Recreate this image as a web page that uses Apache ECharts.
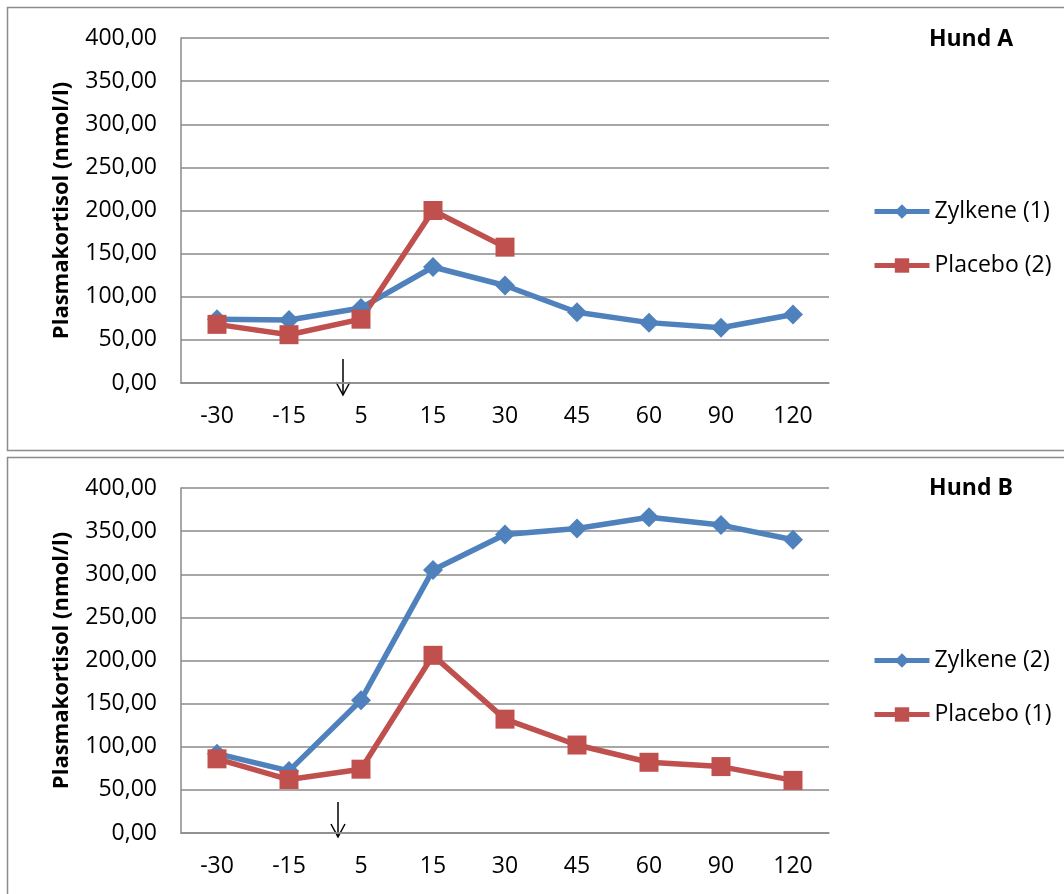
<!DOCTYPE html>
<html>
<head>
<meta charset="utf-8">
<script src="https://cdn.jsdelivr.net/npm/echarts@6/dist/echarts.min.js"></script>
<style>
html,body{margin:0;padding:0;background:#fff;}
#c{width:1064px;height:894px;}
</style>
</head>
<body>
<div id="c"></div>
<script>
var categories = ['-30', '-15', '5', '15', '30', '45', '60', '90', '120'];
var yTicks = [0, 50, 100, 150, 200, 250, 300, 350, 400];

var titleA = 'Hund A';
var zylkeneA_name = 'Zylkene (1)';
var placeboA_name = 'Placebo (2)';
var zylkeneA = [74, 73, 87, 134.5, 113, 82, 70, 64, 79.5];
var placeboA = [68, 56, 74, 200, 157.5, null, null, null, null];

var titleB = 'Hund B';
var zylkeneB_name = 'Zylkene (2)';
var placeboB_name = 'Placebo (1)';
var zylkeneB = [92, 72, 154, 305, 346, 353, 366, 357, 340];
var placeboB = [86, 62, 74, 206, 132, 102, 82, 77, 61];

var yName = 'Plasmakortisol (nmol/l)';

var BLUE = '#4F81BD', RED = '#C0504D', GRIDC = '#8a8a8a';
var FONT = '"Open Sans", sans-serif';

var chart = echarts.init(document.getElementById('c'));

function xAxis(gi) {
  return {
    type: 'category', gridIndex: gi, data: categories, boundaryGap: true,
    axisLine: {lineStyle: {color: GRIDC, width: 1.5}},
    axisTick: {show: false},
    axisLabel: {color: '#000', fontSize: 23, fontFamily: FONT, margin: 22}
  };
}
function yAxis(gi) {
  return {
    type: 'value', gridIndex: gi, min: 0, max: 400, interval: 50,
    name: yName, nameLocation: 'middle', nameRotate: 90, nameGap: 108,
    nameTextStyle: {color: '#000', fontSize: 22, fontWeight: 'bold', fontFamily: FONT},
    axisLine: {show: true, lineStyle: {color: GRIDC, width: 1.5}},
    axisTick: {show: false},
    splitLine: {lineStyle: {color: GRIDC, width: 1.5}},
    axisLabel: {color: '#000', fontSize: 23, fontFamily: FONT, margin: 24,
      formatter: function (v) { return v.toFixed(2).replace('.', ','); }}
  };
}
function lineSeries(name, data, gi, color, symbol, size) {
  return {
    type: 'line', name: name, data: data, xAxisIndex: gi, yAxisIndex: gi,
    symbol: symbol, symbolSize: size, connectNulls: false,
    lineStyle: {color: color, width: 5.5},
    itemStyle: {color: color},
    emphasis: {disabled: true}, animation: false
  };
}
function legend(top, names) {
  return {
    orient: 'vertical', left: 867, top: top, itemWidth: 55, itemHeight: 18, itemGap: 31,
    data: names, selectedMode: false,
    lineStyle: {width: 5},
    textStyle: {color: '#000', fontSize: 23, fontFamily: FONT}
  };
}
function arrow(x, y1, y2) {
  return [
    {type: 'line', shape: {x1: x, y1: y1, x2: x, y2: y2}, style: {stroke: '#000', lineWidth: 1.5}},
    {type: 'polyline', shape: {points: [[x - 7, y2 - 13], [x, y2], [x + 7, y2 - 13]]}, style: {stroke: '#000', lineWidth: 1.5, fill: null}}
  ];
}

var option = {
  backgroundColor: '#fff',
  animation: false,
  title: [
    {text: titleA, left: 966, top: 23, textAlign: 'center', textStyle: {fontSize: 23, fontWeight: 'bold', color: '#000', fontFamily: FONT}},
    {text: titleB, left: 966, top: 472, textAlign: 'center', textStyle: {fontSize: 23, fontWeight: 'bold', color: '#000', fontFamily: FONT}}
  ],
  grid: [
    {left: 181, width: 648, top: 38, height: 345},
    {left: 181, width: 648, top: 488, height: 345}
  ],
  xAxis: [xAxis(0), xAxis(1)],
  yAxis: [yAxis(0), yAxis(1)],
  legend: [legend(195, [zylkeneA_name, placeboA_name]), legend(644, [zylkeneB_name, placeboB_name])],
  series: [
    lineSeries(zylkeneA_name, zylkeneA, 0, BLUE, 'diamond', 20),
    lineSeries(placeboA_name, placeboA, 0, RED, 'rect', 19),
    lineSeries(zylkeneB_name, zylkeneB, 1, BLUE, 'diamond', 20),
    lineSeries(placeboB_name, placeboB, 1, RED, 'rect', 19)
  ],
  graphic: [
    {type: 'rect', shape: {x: 7.5, y: 7.5, width: 1070, height: 443}, style: {stroke: '#8c8c8c', lineWidth: 1.5, fill: null}, z: -1},
    {type: 'rect', shape: {x: 7.5, y: 457.5, width: 1070, height: 460}, style: {stroke: '#8c8c8c', lineWidth: 1.5, fill: null}, z: -1}
  ].concat(arrow(343, 359, 395)).concat(arrow(338, 802, 837))
};
chart.setOption(option);
</script>
</body>
</html>
